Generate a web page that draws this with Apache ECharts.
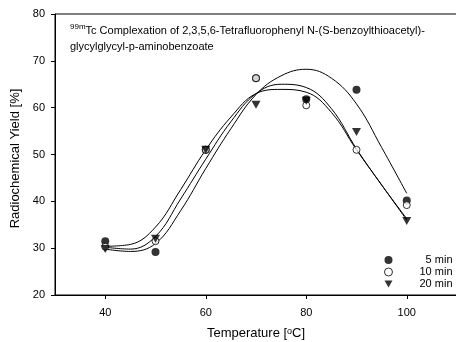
<!DOCTYPE html>
<html>
<head>
<meta charset="utf-8">
<script src="https://cdn.jsdelivr.net/npm/echarts@6/dist/echarts.min.js"></script>
<style>
  html, body { margin: 0; padding: 0; background: #fff; }
  #chart { width: 456px; height: 342px; }
</style>
</head>
<body>
<div id="chart"></div>
<script>
// measured points
const temps = [40, 50, 60, 70, 80, 90, 100];
const yield5 = [31.5, 29.2, 51.0, 66.3, 61.8, 63.8, 40.2];
const yield10 = [30.3, 31.5, 51.0, 66.3, 60.5, 51.0, 39.2];
const yield20 = [29.8, 32.0, 51.0, 60.6, 61.5, 54.8, 35.8];

// fitted curves
const fitTemps = [40, 45, 50, 55, 60, 65, 70, 75, 80, 85, 90, 95, 100];
const fit5 = [29.8, 29.3, 31.0, 38.0, 47.0, 55.5, 62.8, 66.8, 68.2, 66.3, 60.8, 51.5, 41.7];
const fit10 = [30.2, 29.8, 32.5, 40.5, 49.0, 57.0, 63.0, 65.0, 64.3, 59.8, 51.2, 43.5, 36.3];
const fit20 = [30.4, 30.8, 34.5, 42.5, 51.0, 58.0, 63.0, 63.9, 63.3, 59.0, 51.0, 43.5, 36.0];

const xTicks = [40, 60, 80, 100];
const seriesNames = ['5 min', '10 min', '20 min'];

const font = 'Liberation Sans, Arial, sans-serif';
const pair = (xs, ys) => xs.map((x, i) => [x, ys[i]]);

const fitLine = (ys) => ({
  type: 'line',
  data: pair(fitTemps, ys),
  smooth: 0.4,
  showSymbol: false,
  silent: true,
  lineStyle: { color: '#000', width: 1 },
  z: 2
});

const chart = echarts.init(document.getElementById('chart'));
chart.setOption({
  animation: false,
  backgroundColor: '#fff',
  textStyle: { fontFamily: font, color: '#000' },
  title: {
    left: 70,
    top: 23,
    padding: 0,
    text: '{sup|99m}{t|Tc Complexation of 2,3,5,6-Tetrafluorophenyl N-(S-benzoylthioacetyl)-}\n{t|glycylglycyl-p-aminobenzoate}',
    textStyle: {
      fontFamily: font,
      fontWeight: 'normal',
      rich: {
        sup: { fontSize: 8, fontFamily: font, color: '#000', verticalAlign: 'top', lineHeight: 16 },
        t: { fontSize: 11, fontFamily: font, color: '#000', lineHeight: 16 }
      }
    }
  },
  legend: {
    orient: 'vertical',
    left: 384,
    top: 254,
    padding: 0,
    itemWidth: 8,
    itemHeight: 8,
    itemGap: 0,
    data: [
      { name: seriesNames[0], icon: 'circle' },
      { name: seriesNames[1], icon: 'circle', itemStyle: { borderWidth: 1 } },
      { name: seriesNames[2], icon: 'path://M0,0 L10,0 L5,9 Z' }
    ],
    formatter: (n) => '{a|' + n + '}',
    textStyle: {
      fontFamily: font,
      fontSize: 11,
      color: '#000',
      lineHeight: 12,
      rich: { a: { width: 55, align: 'right', fontSize: 11, lineHeight: 12, fontFamily: font } }
    }
  },
  grid: {
    left: 55,
    top: 14,
    width: 402,
    height: 281,
    outerBoundsMode: 'none',
    containLabel: false,
    show: true,
    borderColor: '#000',
    borderWidth: 1
  },
  xAxis: {
    type: 'value',
    min: 30,
    max: 110,
    interval: 10,
    name: 'Temperature [{s|o}C]',
    nameLocation: 'middle',
    nameGap: 32,
    nameTextStyle: {
      fontFamily: font,
      fontSize: 13,
      color: '#000',
      rich: { s: { fontSize: 9, fontFamily: font, verticalAlign: 'top', color: '#000' } }
    },
    axisLine: { lineStyle: { color: '#000', width: 1 } },
    axisTick: { length: 4, customValues: xTicks, lineStyle: { color: '#000' } },
    axisLabel: { customValues: xTicks, fontSize: 11, color: '#000', margin: 12, fontFamily: font },
    splitLine: { show: false }
  },
  yAxis: {
    type: 'value',
    min: 20,
    max: 80,
    interval: 10,
    name: 'Radiochemical Yield [%]',
    nameLocation: 'middle',
    nameGap: 33,
    nameTextStyle: { fontFamily: font, fontSize: 13, color: '#000', padding: [0, 8, 0, 0] },
    axisLine: { show: true, lineStyle: { color: '#000', width: 1 } },
    axisTick: { show: true, length: 4, lineStyle: { color: '#000' } },
    axisLabel: { fontSize: 11, color: '#000', margin: 10, fontFamily: font },
    splitLine: { show: false }
  },
  series: [
    fitLine(fit5),
    fitLine(fit10),
    fitLine(fit20),
    {
      name: seriesNames[0],
      type: 'scatter',
      data: pair(temps, yield5),
      symbol: 'circle',
      symbolSize: 8,
      itemStyle: { color: '#000' },
      z: 3
    },
    {
      name: seriesNames[1],
      type: 'scatter',
      data: pair(temps, yield10),
      symbol: 'circle',
      symbolSize: 7,
      itemStyle: { color: '#fff', borderColor: '#000', borderWidth: 1 },
      z: 4
    },
    {
      name: seriesNames[2],
      type: 'scatter',
      data: pair(temps, yield20),
      symbol: 'triangle',
      symbolRotate: 180,
      symbolSize: [9, 8],
      itemStyle: { color: '#000' },
      z: 5
    }
  ]
});
</script>
</body>
</html>
